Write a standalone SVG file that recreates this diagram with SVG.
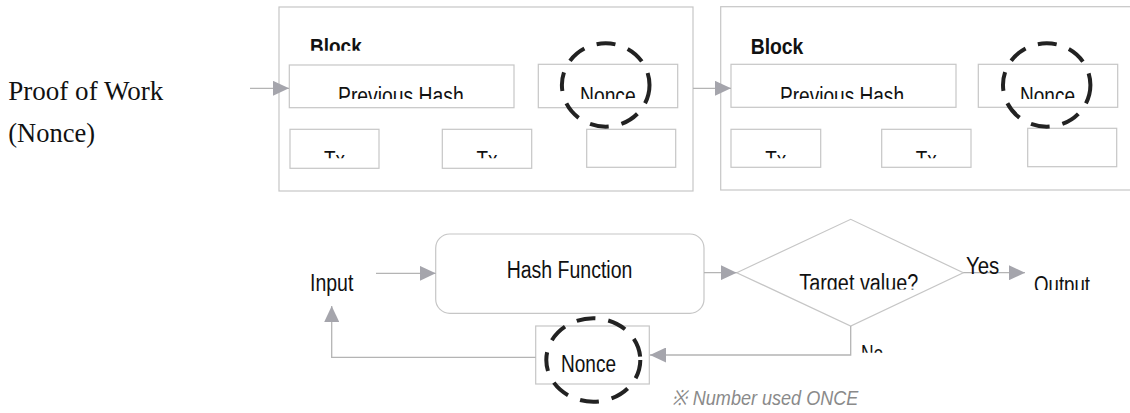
<svg xmlns="http://www.w3.org/2000/svg" width="1130" height="413" viewBox="0 0 1130 413">
<style>
.box{fill:#fff;stroke:#c6c6c6;stroke-width:1.2}
.ln{fill:none;stroke:#b4b4b4;stroke-width:1.3}
.dash{fill:none;stroke:#222;stroke-width:4;stroke-dasharray:19 13}
.t{font-family:"Liberation Sans",Arial,sans-serif;font-size:23px;fill:#111}
.b{font-family:"Liberation Sans",Arial,sans-serif;font-size:22px;font-weight:bold;fill:#111}
.s{font-family:"Liberation Serif","Times New Roman",serif;font-size:26.5px;fill:#111}
.n{font-family:"Liberation Sans",Arial,sans-serif;font-size:21px;font-style:italic;fill:#8a8a8a}
</style>
<defs>
<marker id="ah" markerUnits="userSpaceOnUse" markerWidth="17" markerHeight="15" refX="16" refY="7.5" orient="auto">
<path d="M0,0 L16,7.5 L0,15 Z" fill="#a5a5ac"/>
</marker>
<clipPath id="c1" clipPathUnits="userSpaceOnUse"><rect x="0" y="0" width="1130" height="50.7"/></clipPath>
<clipPath id="c2" clipPathUnits="userSpaceOnUse"><rect x="0" y="0" width="1130" height="99"/></clipPath>
<clipPath id="c3" clipPathUnits="userSpaceOnUse"><rect x="0" y="0" width="1130" height="158.3"/></clipPath>
<clipPath id="c4" clipPathUnits="userSpaceOnUse"><rect x="0" y="0" width="1130" height="289.5"/></clipPath>
<clipPath id="c5" clipPathUnits="userSpaceOnUse"><rect x="0" y="0" width="1130" height="290"/></clipPath>
<clipPath id="c6" clipPathUnits="userSpaceOnUse"><rect x="0" y="0" width="1130" height="352.7"/></clipPath>
</defs>

<g id="title">
<text class="s" x="8.3" y="100" textLength="155" lengthAdjust="spacingAndGlyphs">Proof of Work</text>
<text class="s" x="8.3" y="141.7" textLength="86.7" lengthAdjust="spacingAndGlyphs">(Nonce)</text>
</g>

<g id="block1">
<rect class="box" x="279" y="7" width="414" height="184"/>
<text class="b" x="310" y="54" textLength="51.7" lengthAdjust="spacingAndGlyphs" clip-path="url(#c1)">Block</text>
<rect class="box" x="289.3" y="65" width="224.7" height="42.7"/>
<text class="t" x="338" y="104" textLength="125.7" lengthAdjust="spacingAndGlyphs" clip-path="url(#c2)">Previous Hash</text>
<rect class="box" x="538.3" y="64.3" width="139.4" height="43.4"/>
<text class="t" x="580" y="104" textLength="55.7" lengthAdjust="spacingAndGlyphs" clip-path="url(#c2)">Nonce</text>
<rect class="box" x="290" y="129.3" width="89" height="39"/>
<text class="t" x="334.5" y="168" text-anchor="middle" textLength="21" lengthAdjust="spacingAndGlyphs" clip-path="url(#c3)">Tx</text>
<rect class="box" x="442.3" y="129.3" width="89.4" height="39"/>
<text class="t" x="487" y="168" text-anchor="middle" textLength="21" lengthAdjust="spacingAndGlyphs" clip-path="url(#c3)">Tx</text>
<rect class="box" x="586.7" y="129.3" width="89" height="38"/>
<ellipse class="dash" cx="605.7" cy="85" rx="43.8" ry="41.7"/>
</g>

<g id="block2">
<rect class="box" x="720.7" y="6.7" width="420" height="183.3"/>
<text class="b" x="750.7" y="54" textLength="52.7" lengthAdjust="spacingAndGlyphs">Block</text>
<rect class="box" x="731" y="64.3" width="225" height="43"/>
<text class="t" x="780" y="104" textLength="124" lengthAdjust="spacingAndGlyphs" clip-path="url(#c2)">Previous Hash</text>
<rect class="box" x="978.3" y="64.3" width="139.4" height="43"/>
<text class="t" x="1020" y="104" textLength="55" lengthAdjust="spacingAndGlyphs" clip-path="url(#c2)">Nonce</text>
<rect class="box" x="731" y="129.3" width="89.7" height="38"/>
<text class="t" x="775.8" y="168" text-anchor="middle" textLength="21" lengthAdjust="spacingAndGlyphs" clip-path="url(#c3)">Tx</text>
<rect class="box" x="881.7" y="129.3" width="89.3" height="38"/>
<text class="t" x="926.3" y="168" text-anchor="middle" textLength="21" lengthAdjust="spacingAndGlyphs" clip-path="url(#c3)">Tx</text>
<rect class="box" x="1027.7" y="128.3" width="89" height="38.4"/>
<ellipse class="dash" cx="1046.7" cy="85" rx="43.7" ry="41.7"/>
</g>

<g id="input">
<text class="t" x="310" y="290.7" textLength="43.3" lengthAdjust="spacingAndGlyphs">Input</text>
</g>

<g id="hash">
<rect class="box" x="435.7" y="234" width="268.3" height="79.3" rx="14"/>
<text class="t" x="506.7" y="278.3" textLength="125.7" lengthAdjust="spacingAndGlyphs">Hash Function</text>
</g>

<g id="target">
<polygon class="box" points="736.7,272.7 850.7,219.3 963.3,272.7 850.7,326"/>
<text class="t" x="799.3" y="290.5" textLength="119" lengthAdjust="spacingAndGlyphs" clip-path="url(#c4)">Target value?</text>
</g>

<g id="output">
<text class="t" x="1034" y="292.5" textLength="56" lengthAdjust="spacingAndGlyphs" clip-path="url(#c5)">Output</text>
</g>

<g id="nonce">
<rect class="box" x="535.7" y="326" width="113.6" height="58"/>
<text class="t" x="561" y="371.7" textLength="55" lengthAdjust="spacingAndGlyphs">Nonce</text>
<ellipse class="dash" cx="593.3" cy="360" rx="47" ry="41.7"/>
</g>

<g id="connectors">
<path class="ln" d="M250,88.3 L289,88.3" marker-end="url(#ah)"/>
<path class="ln" d="M693,88.3 L731,88.3" marker-end="url(#ah)"/>
<path class="ln" d="M376,273.3 L435.7,273.3" marker-end="url(#ah)"/>
<path class="ln" d="M704,272.7 L736.7,272.7" marker-end="url(#ah)"/>
<path class="ln" d="M963.3,272.7 L1025,272.7" marker-end="url(#ah)"/>
<path class="ln" d="M850.7,326 L850.7,355 L650,355" marker-end="url(#ah)"/>
<path class="ln" d="M535.7,357.3 L331.7,357.3 L331.7,306" marker-end="url(#ah)"/>
<text class="t" x="966" y="274" textLength="33.3" lengthAdjust="spacingAndGlyphs">Yes</text>
<text class="t" x="861" y="361.5" textLength="22.3" lengthAdjust="spacingAndGlyphs" clip-path="url(#c6)">No</text>
</g>

<g id="note">
<text class="n" x="672.3" y="405" textLength="186" lengthAdjust="spacingAndGlyphs">※ Number used ONCE</text>
</g>
</svg>
